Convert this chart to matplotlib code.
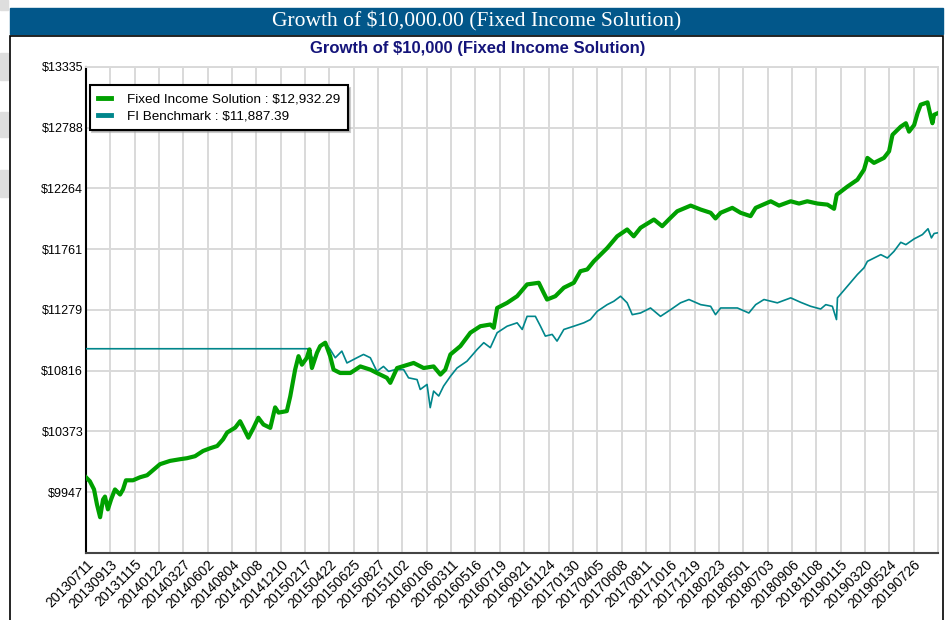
import numpy as np
import matplotlib
matplotlib.use("Agg")
import matplotlib.pyplot as plt
from matplotlib.patches import Rectangle

# x positions are in units of tick intervals (tick i = date label i)
tick_labels = ["20130711", "20130913", "20131115", "20140122", "20140327", "20140602",
               "20140804", "20141008", "20141210", "20150217", "20150422", "20150625",
               "20150827", "20151102", "20160106", "20160311", "20160516", "20160719",
               "20160921", "20161124", "20170130", "20170405", "20170608", "20170811",
               "20171016", "20171219", "20180223", "20180501", "20180703", "20180906",
               "20181108", "20190115", "20190320", "20190524", "20190726"]
y_ticks = [9947, 10373, 10816, 11279, 11761, 12264, 12788, 13335]

fis_x = [0.00, 0.16, 0.33, 0.45, 0.58, 0.70, 0.78, 0.90, 1.03, 1.19, 1.40, 1.52, 1.64, 1.93,
         2.22, 2.51, 3.04, 3.45, 3.87, 4.15, 4.48, 4.81, 5.10, 5.39, 5.63, 5.80, 6.13, 6.33,
         6.47, 6.67, 6.88, 7.08, 7.29, 7.57, 7.77, 7.91, 8.25, 8.39, 8.59, 8.73, 8.87, 9.07,
         9.18, 9.28, 9.49, 9.62, 9.83, 10.03, 10.17, 10.44, 10.86, 11.27, 11.68, 11.95, 12.36,
         12.50, 12.78, 13.46, 13.87, 14.28, 14.56, 14.76, 14.97, 15.38, 15.79, 16.20, 16.61,
         16.75, 16.89, 17.30, 17.71, 18.12, 18.60, 18.80, 18.94, 19.28, 19.63, 20.04, 20.31,
         20.59, 20.86, 21.41, 21.82, 22.23, 22.50, 22.78, 23.33, 23.67, 24.01, 24.29, 24.84,
         25.25, 25.66, 25.86, 26.07, 26.55, 26.89, 27.30, 27.51, 28.13, 28.47, 28.95, 29.29,
         29.63, 30.05, 30.46, 30.73, 30.84, 31.28, 31.69, 31.96, 32.10, 32.37, 32.78, 32.99,
         33.13, 33.47, 33.68, 33.81, 34.02, 34.16, 34.29, 34.57, 34.70, 34.77, 34.84, 35.00]
fis_v = [10050, 10022, 9966, 9864, 9777, 9897, 9917, 9830, 9897, 9966, 9931, 9966, 10029, 10029,
         10050, 10064, 10141, 10164, 10176, 10183, 10197, 10234, 10253, 10269, 10316, 10365, 10400, 10446,
         10398, 10328, 10398, 10471, 10422, 10398, 10546, 10508, 10519, 10626, 10823, 10925, 10861, 10912,
         10976, 10836, 10951, 11001, 11027, 10925, 10824, 10799, 10799, 10848, 10824, 10799, 10763,
         10726, 10836, 10874, 10836, 10848, 10787, 10824, 10938, 11001, 11103, 11153, 11166,
         11141, 11294, 11334, 11386, 11479, 11492, 11413, 11360, 11386, 11453, 11492, 11584,
         11598, 11663, 11770, 11866, 11922, 11866, 11936, 12004, 11949, 12018, 12073, 12120,
         12087, 12060, 12013, 12060, 12101, 12060, 12032, 12101, 12156, 12120, 12156, 12137,
         12156, 12137, 12128, 12093, 12211, 12280, 12338, 12424, 12525, 12482, 12525, 12582,
         12726, 12798, 12828, 12754, 12812, 12918, 12993, 13014, 12888, 12828, 12903, 12918]

bm_x = [0.00, 9.13, 9.21, 9.35, 9.62, 9.83, 10.03, 10.24, 10.51, 10.72, 11.13, 11.40, 11.68,
        11.95, 12.22, 12.43, 12.70, 13.05, 13.25, 13.60, 13.73, 14.01, 14.14, 14.28, 14.49,
        14.69, 14.97, 15.24, 15.65, 16.07, 16.34, 16.61, 16.89, 17.30, 17.71, 17.92, 18.12,
        18.46, 18.67, 18.87, 19.15, 19.35, 19.63, 20.04, 20.45, 20.72, 21.00, 21.41, 21.68,
        21.96, 22.23, 22.44, 22.78, 23.19, 23.60, 24.01, 24.42, 24.77, 25.25, 25.66, 25.86,
        26.07, 26.41, 26.76, 27.23, 27.51, 27.85, 28.40, 28.95, 29.36, 29.77, 30.18, 30.39,
        30.66, 30.83, 30.87, 31.28, 31.69, 31.96, 32.10, 32.65, 32.92, 33.19, 33.47, 33.68,
        34.02, 34.36, 34.59, 34.73, 34.84, 35.00]
bm_v = [10981, 10981, 10938, 10900, 11001, 11027, 10976, 10913, 10963, 10874, 10913, 10938, 10913,
        10811, 10848, 10811, 10824, 10824, 10763, 10750, 10677, 10714, 10544, 10665, 10629,
        10702, 10774, 10836, 10887, 10976, 11027, 10989, 11103, 11153, 11179, 11128, 11229,
        11229, 11153, 11077, 11090, 11039, 11128, 11153, 11179, 11204, 11268, 11320, 11346,
        11386, 11334, 11242, 11255, 11294, 11229, 11280, 11334, 11360, 11320, 11307, 11242,
        11294, 11294, 11294, 11255, 11320, 11360, 11334, 11373, 11338, 11307, 11286, 11320,
        11307, 11204, 11373, 11465, 11558, 11611, 11663, 11717, 11690, 11743, 11817, 11798,
        11845, 11880, 11928, 11853, 11889, 11895]

GREEN = "#00a000"
TEAL = "#00868b"

plt.rcParams['font.family'] = ['Liberation Sans', 'DejaVu Sans']

fig = plt.figure(figsize=(9.49, 6.20), dpi=100)
W, H = 949.0, 620.0

# little grey blocks at the far left edge
for y0, y1 in [(0, 10), (53, 80), (112, 137), (170, 197)]:
    fig.patches.append(Rectangle((0, 1 - y1 / H), 8 / W, (y1 - y0) / H,
                                 transform=fig.transFigure, color="#dedede", zorder=0))

# header bar
fig.patches.append(Rectangle((10 / W, 1 - 34 / H), 933 / W, 26 / H,
                             transform=fig.transFigure, color="#02578a", zorder=1))
fig.text(477 / W, 1 - 21 / H, "Growth of $10,000.00 (Fixed Income Solution)",
         color="white", fontsize=15.5, family="Liberation Serif", ha="center", va="center")

# white panel with black frame
fig.patches.append(Rectangle((10 / W, -0.05), 933 / W, 1 - 36 / H + 0.05,
                             transform=fig.transFigure, facecolor="white",
                             edgecolor="black", lw=1.2, zorder=1))
fig.text(478 / W, 1 - 49 / H, "Growth of $10,000 (Fixed Income Solution)",
         color="#14147a", fontsize=12, fontweight="bold", ha="center", va="center")

ax = fig.add_axes([86 / W, (H - 553) / H, (938 - 86) / W, (553 - 67) / H])
ax.set_zorder(2)
ax.set_facecolor("white")

ax.plot(bm_x, bm_v, color=TEAL, lw=1.2, label="FI Benchmark : $11,887.39", zorder=3)
ax.plot(fis_x, fis_v, color=GREEN, lw=3, label="Fixed Income Solution : $12,932.29", zorder=4)

ax.set_yscale("log")
ax.set_ylim(y_ticks[0] / 1.0428, y_ticks[-1])
ax.set_yticks(y_ticks)
ax.set_yticklabels(["$%d" % v for v in y_ticks], fontsize=9)
ax.yaxis.set_minor_locator(matplotlib.ticker.NullLocator())

ax.set_xlim(0, 35)
ax.set_xticks(np.arange(len(tick_labels)))
ax.set_xticklabels(tick_labels, rotation=45, ha="right", va="top",
                   rotation_mode="anchor", fontsize=10)

ax.tick_params(length=0, pad=3)
ax.tick_params(axis="y", pad=2)
ax.grid(True, color="#d9d9d9", lw=1.4)
ax.set_axisbelow(True)
for s in ["top", "right"]:
    ax.spines[s].set_color("#d9d9d9")
    ax.spines[s].set_linewidth(1.4)
ax.spines["left"].set_color("black")
ax.spines["left"].set_linewidth(1.5)
ax.spines["bottom"].set_color("#444444")
ax.spines["bottom"].set_linewidth(1.5)

h, l = ax.get_legend_handles_labels()
leg = ax.legend(h[::-1], l[::-1], loc="upper left", bbox_to_anchor=(0.005, 0.962),
                borderaxespad=0, fontsize=9.7, handlelength=1.0, handletextpad=1.2,
                borderpad=0.55, labelspacing=0.35, fancybox=False, framealpha=1,
                edgecolor="black", shadow={"ox": 1.5, "oy": -1.5, "color": "#999999"})
leg.get_frame().set_linewidth(1.5)
for ln in leg.get_lines():
    ln.set_linewidth(3.5)

fig.savefig("out.png", dpi=100)
